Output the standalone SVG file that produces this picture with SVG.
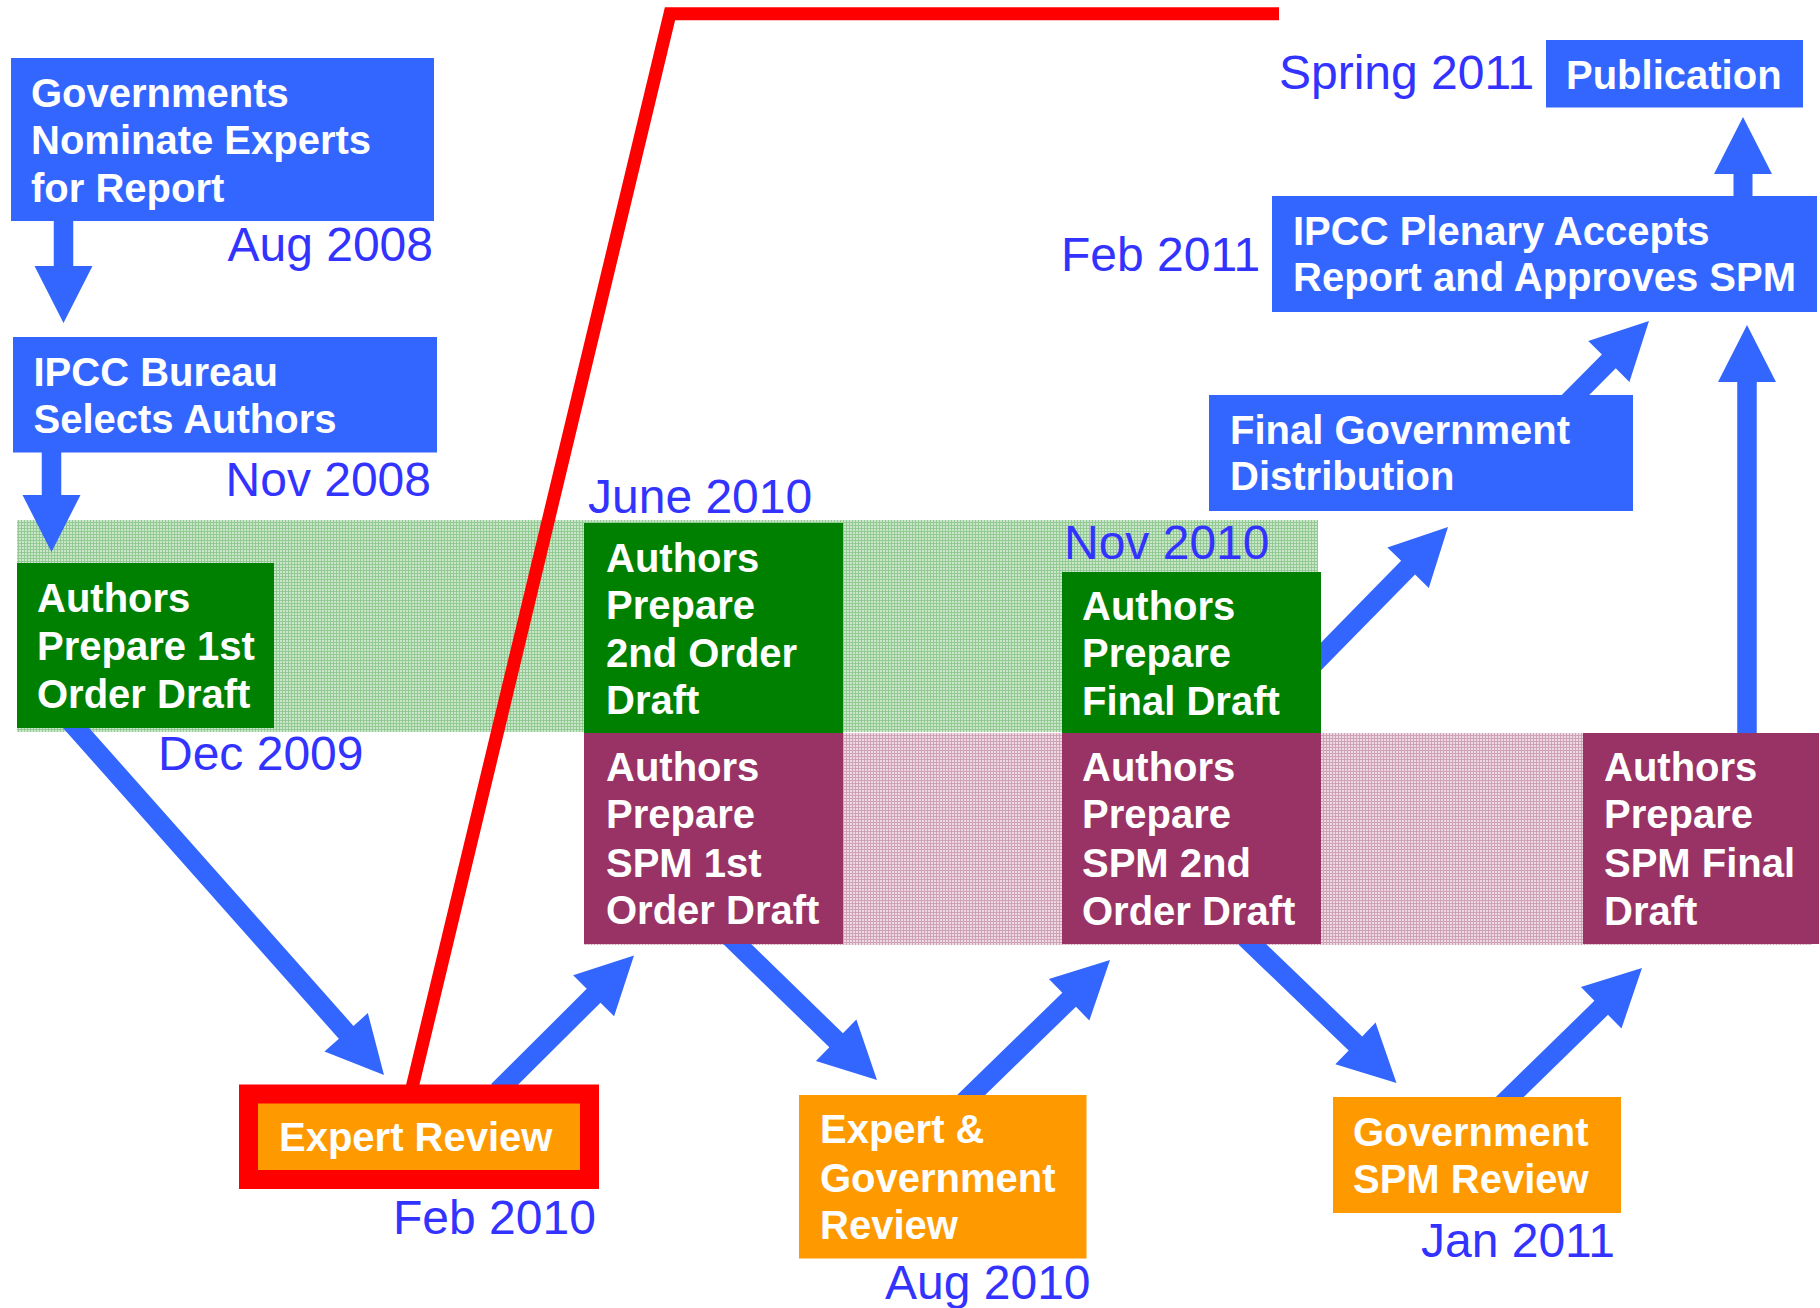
<svg xmlns="http://www.w3.org/2000/svg" width="1820" height="1308" viewBox="0 0 1820 1308">
<defs>
<pattern id="gpat" x="0" y="0" width="3" height="3" patternUnits="userSpaceOnUse">
<rect width="3" height="3" fill="#cbe7cb"/>
<rect width="3" height="1" fill="#93c993"/>
<rect width="1" height="3" fill="#93c993"/>
</pattern>
<pattern id="ppat" x="0" y="0" width="3" height="3" patternUnits="userSpaceOnUse">
<rect width="3" height="3" fill="#eed8e2"/>
<rect width="3" height="1" fill="#cfa3b6"/>
<rect width="1" height="3" fill="#cfa3b6"/>
</pattern>
</defs>
<style>
.blue{fill:#3366ff}
.green{fill:#008000}
.mag{fill:#993366}
.orange{fill:#ff9900}
.arrow{fill:#3366ff}
.box{font-family:"Liberation Sans",Arial,sans-serif;font-weight:bold;font-size:40px;fill:#ffffff}
.date{font-family:"Liberation Sans",Arial,sans-serif;font-size:48px;fill:#3333ff}
</style>
<rect width="1820" height="1308" fill="#ffffff"/>
<g id="bands">
<rect x="17" y="520" width="1301" height="212" fill="url(#gpat)"/>
<rect x="584" y="733" width="1228" height="212" fill="url(#ppat)"/>
</g>
<g id="connectors">
<polyline points="411.5,1090 670,13.7 1279,13.7" fill="none" stroke="#ff0000" stroke-width="13" stroke-linejoin="miter"/>
<polygon class="arrow" transform="translate(63.5,323) rotate(90)" points="-108,-9.75 -57,-9.75 -57,-29 0,0 -57,29 -57,9.75 -108,9.75"/>
<polygon class="arrow" transform="translate(51.5,552) rotate(90)" points="-107,-9.75 -57,-9.75 -57,-29 0,0 -57,29 -57,9.75 -107,9.75"/>
<polygon class="arrow" transform="translate(384,1075) rotate(48.42)" points="-473,-9.75 -57,-9.75 -57,-29 0,0 -57,29 -57,9.75 -473,9.75"/>
<polygon class="arrow" transform="translate(634,955.5) rotate(-44.9)" points="-192,-9.75 -57,-9.75 -57,-29 0,0 -57,29 -57,9.75 -192,9.75"/>
<polygon class="arrow" transform="translate(877,1080) rotate(44.2)" points="-205,-9.75 -57,-9.75 -57,-29 0,0 -57,29 -57,9.75 -205,9.75"/>
<polygon class="arrow" transform="translate(1110,960) rotate(-44.2)" points="-204,-9.75 -57,-9.75 -57,-29 0,0 -57,29 -57,9.75 -204,9.75"/>
<polygon class="arrow" transform="translate(1396.5,1083) rotate(43.9)" points="-210,-9.75 -57,-9.75 -57,-29 0,0 -57,29 -57,9.75 -210,9.75"/>
<polygon class="arrow" transform="translate(1642,968) rotate(-44.3)" points="-195,-9.75 -57,-9.75 -57,-29 0,0 -57,29 -57,9.75 -195,9.75"/>
<polygon class="arrow" transform="translate(1448,527) rotate(-45.55)" points="-200,-9.75 -57,-9.75 -57,-29 0,0 -57,29 -57,9.75 -200,9.75"/>
<polygon class="arrow" transform="translate(1649,321) rotate(-45.2)" points="-114,-9.75 -57,-9.75 -57,-29 0,0 -57,29 -57,9.75 -114,9.75"/>
<polygon class="arrow" transform="translate(1743,117) rotate(-90)" points="-88,-9.5 -57,-9.5 -57,-29 0,0 -57,29 -57,9.5 -88,9.5"/>
<polygon class="arrow" transform="translate(1747,325) rotate(-90)" points="-415,-9.75 -57,-9.75 -57,-29 0,0 -57,29 -57,9.75 -415,9.75"/>
</g>
<g id="nominate">
<rect class="blue" x="11" y="58" width="423" height="163"/>
<text class="box" x="31" y="107">Governments</text>
<text class="box" x="31" y="154">Nominate Experts</text>
<text class="box" x="31" y="202">for Report</text>
<text class="date" x="433" y="261" text-anchor="end">Aug 2008</text>
</g>
<g id="bureau">
<rect class="blue" x="13" y="337" width="424" height="115.5"/>
<text class="box" x="33.5" y="386">IPCC Bureau</text>
<text class="box" x="33.5" y="433">Selects Authors</text>
<text class="date" x="431" y="496" text-anchor="end">Nov 2008</text>
</g>
<g id="draft1">
<rect class="green" x="17" y="563" width="257" height="165"/>
<text class="box" x="37" y="612">Authors</text>
<text class="box" x="37" y="660">Prepare 1st</text>
<text class="box" x="37" y="708">Order Draft</text>
<text class="date" x="158" y="770">Dec 2009</text>
</g>
<g id="expert-review">
<rect class="orange" x="248.5" y="1094" width="341" height="85.5" stroke="#ff0000" stroke-width="19"/>
<text class="box" x="279" y="1151">Expert Review</text>
<text class="date" x="393" y="1234">Feb 2010</text>
</g>
<g id="draft2">
<text class="date" x="588" y="513">June 2010</text>
<rect class="green" x="584" y="523" width="259" height="210"/>
<text class="box" x="606" y="572">Authors</text>
<text class="box" x="606" y="619">Prepare</text>
<text class="box" x="606" y="667">2nd Order</text>
<text class="box" x="606" y="714">Draft</text>
</g>
<g id="spm1">
<rect class="mag" x="584" y="733" width="259" height="211"/>
<text class="box" x="606" y="781">Authors</text>
<text class="box" x="606" y="828">Prepare</text>
<text class="box" x="606" y="877">SPM 1st</text>
<text class="box" x="606" y="924">Order Draft</text>
</g>
<g id="expert-gov-review">
<rect class="orange" x="799" y="1095" width="287.5" height="163.5"/>
<text class="box" x="820" y="1143">Expert &amp;</text>
<text class="box" x="820" y="1192">Government</text>
<text class="box" x="820" y="1239">Review</text>
<text class="date" x="885" y="1299">Aug 2010</text>
</g>
<g id="final-draft">
<text class="date" x="1064" y="559">Nov 2010</text>
<rect class="green" x="1062" y="572" width="259" height="161"/>
<text class="box" x="1082" y="620">Authors</text>
<text class="box" x="1082" y="667">Prepare</text>
<text class="box" x="1082" y="715">Final Draft</text>
</g>
<g id="spm2">
<rect class="mag" x="1062" y="733" width="259" height="211"/>
<text class="box" x="1082" y="781">Authors</text>
<text class="box" x="1082" y="828">Prepare</text>
<text class="box" x="1082" y="877">SPM 2nd</text>
<text class="box" x="1082" y="925">Order Draft</text>
</g>
<g id="gov-spm-review">
<rect class="orange" x="1333" y="1097" width="288" height="116"/>
<text class="box" x="1353" y="1146">Government</text>
<text class="box" x="1353" y="1193">SPM Review</text>
<text class="date" x="1421" y="1257">Jan 2011</text>
</g>
<g id="spm-final">
<rect class="mag" x="1583" y="733" width="236" height="211"/>
<text class="box" x="1604" y="781">Authors</text>
<text class="box" x="1604" y="828">Prepare</text>
<text class="box" x="1604" y="877">SPM Final</text>
<text class="box" x="1604" y="925">Draft</text>
</g>
<g id="final-gov-distribution">
<rect class="blue" x="1209" y="395" width="424" height="116"/>
<text class="box" x="1230" y="444">Final Government</text>
<text class="box" x="1230" y="490">Distribution</text>
</g>
<g id="plenary">
<rect class="blue" x="1272" y="196" width="545" height="116"/>
<text class="box" x="1293" y="245">IPCC Plenary Accepts</text>
<text class="box" x="1293" y="291">Report and Approves SPM</text>
<text class="date" x="1061" y="271">Feb 2011</text>
</g>
<g id="publication">
<rect class="blue" x="1546" y="40" width="257" height="67.5"/>
<text class="box" x="1566" y="89">Publication</text>
<text class="date" x="1279" y="89">Spring 2011</text>
</g>
</svg>
